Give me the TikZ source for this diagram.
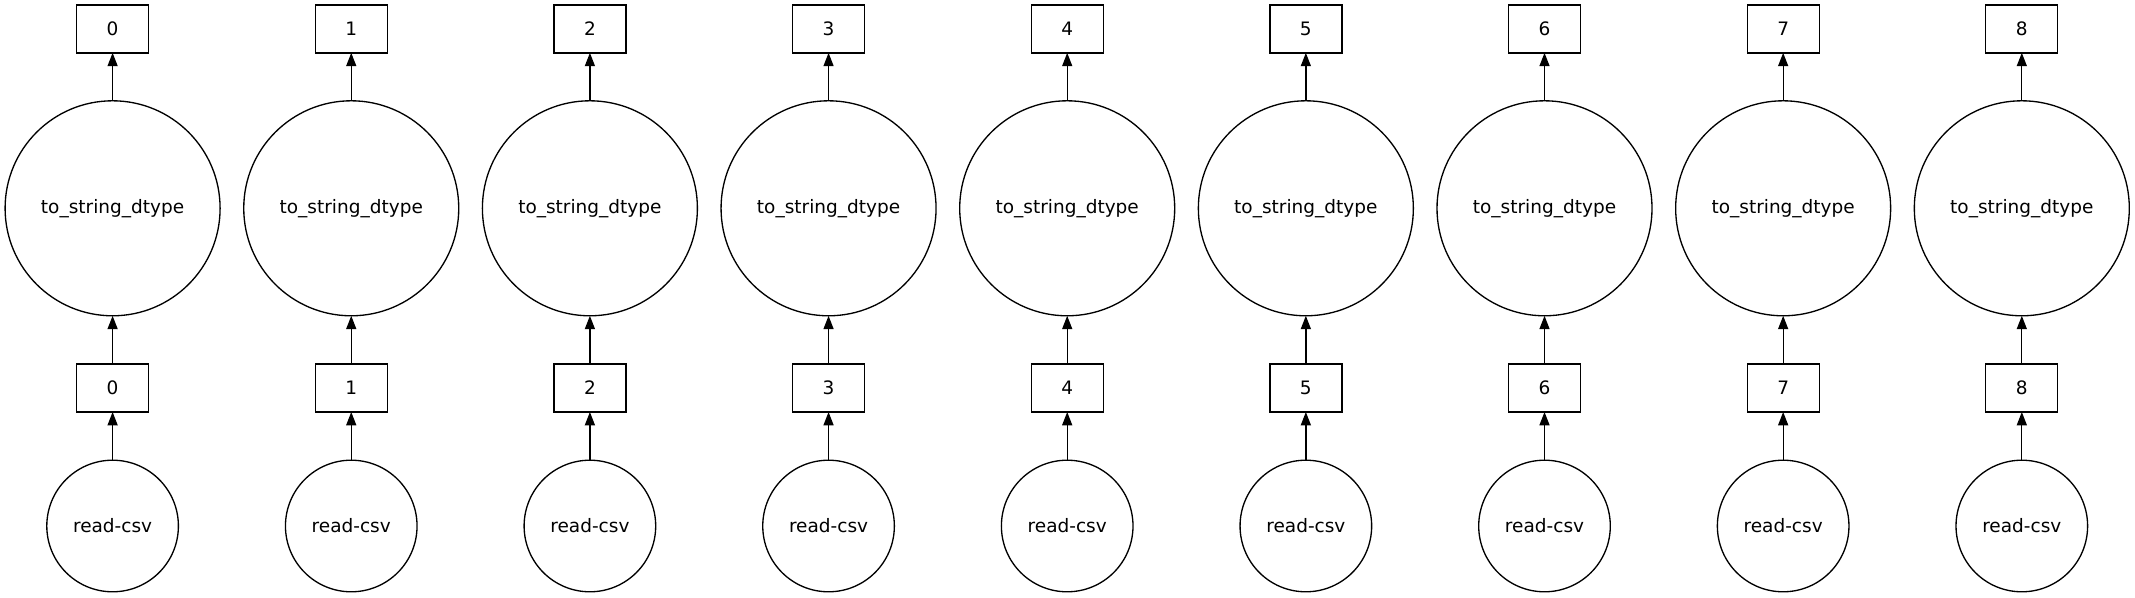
\documentclass[tikz,border=0pt]{standalone}
\usepackage{fontspec}
\setmainfont{DejaVu Sans}
\usetikzlibrary{arrows.meta}
\begin{document}
\begin{tikzpicture}[x=1pt,y=1pt,
  base/.style={draw, line width=1.33pt, outer sep=0pt, inner sep=0pt, font=\fontsize{18.5}{22}\selectfont},
  keybox/.style={base, rectangle, minimum width=72pt, minimum height=48pt},
  bigtask/.style={base, circle, minimum size=215pt},
  smalltask/.style={base, circle, minimum size=131.6pt},
  edge/.style={line width=1.33pt, -{Triangle[length=13.3pt,width=10pt]}}]
\useasboundingbox (0,0) rectangle (2135,597);
\foreach \i in {0,...,8} {
  \pgfmathsetmacro{\cx}{112.6+238.65*\i}
  \node[keybox] (t\i) at (\cx, 568.15) {\i};
  \node[bigtask] (c\i) at (\cx, 388.7) {to\_string\_dtype};
  \node[keybox] (m\i) at (\cx, 209) {\i};
  \node[smalltask] (r\i) at (\cx, 71) {read-csv};
  \draw[edge] (r\i) -- (m\i);
  \draw[edge] (m\i) -- (c\i);
  \draw[edge] (c\i) -- (t\i);
}
\end{tikzpicture}
\end{document}
